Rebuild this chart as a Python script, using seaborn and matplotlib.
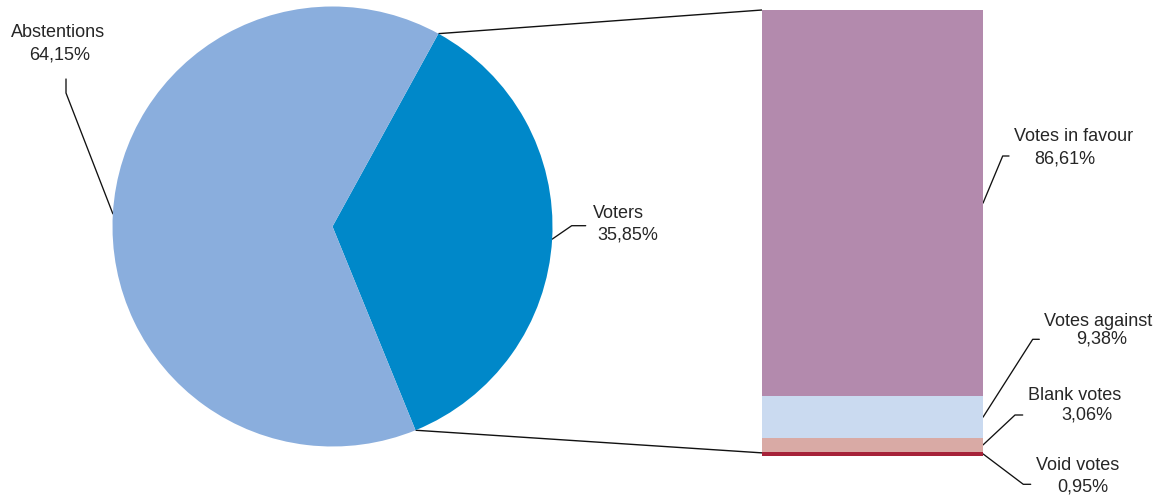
import numpy as np
import matplotlib
matplotlib.use("Agg")
import matplotlib.pyplot as plt
import seaborn as sns
import pandas as pd

# ---- data ----
pie_labels = ["Voters", "Abstentions"]
pie_values = [35.85, 64.15]
pie_colors = ["#0088C9", "#8AAEDD"]

bar_labels = ["Void votes", "Blank votes", "Votes against", "Votes in favour"]
bar_values = [0.95, 3.06, 9.38, 86.61]
bar_colors = ["#A62239", "#D9AAA5", "#CADAF0", "#B38AAD"]

# ---- layout (pixels) ----
W, H = 1163, 497
sns.set_theme(style="white")
plt.rcParams["font.family"] = ["Liberation Sans", "DejaVu Sans"]
TXT = "#262626"
FS = 13.0

fig = plt.figure(figsize=(W / 100, H / 100), dpi=100)

def px_axes(x0, y0, x1, y1, **kw):
    return fig.add_axes([x0 / W, 1 - y1 / H, (x1 - x0) / W, (y1 - y0) / H], **kw)

ax_pie = px_axes(112.5, 6.5, 552.5, 446.5)
ax_bar = px_axes(762, 10, 983, 456)
ax_ov = px_axes(0, 0, W, H, zorder=-1)
ax_ov.set_xlim(0, W)
ax_ov.set_ylim(H, 0)
ax_ov.axis("off")
ax_ov.patch.set_alpha(0)

# pie
start = -pie_values[0] * 360 / 100 / 2 - 3.3
wedges, _ = ax_pie.pie(pie_values, colors=pie_colors, startangle=start,
                       counterclock=True, radius=1,
                       wedgeprops=dict(linewidth=0))
ax_pie.set_xlim(-1, 1)
ax_pie.set_ylim(-1, 1)
ax_pie.set_aspect("equal")
ax_pie.axis("off")

# stacked bar via seaborn
df = pd.DataFrame({"cat": bar_labels, "val": bar_values})
bottoms = np.concatenate([[0], np.cumsum(bar_values)[:-1]])
for i, row in df.iterrows():
    sns.barplot(x=[0], y=[row["val"]], bottom=bottoms[i], color=bar_colors[i],
                width=1.0, ax=ax_bar, linewidth=0, saturation=1)
ax_bar.set_xlim(-0.5, 0.5)
ax_bar.set_ylim(0, sum(bar_values))
ax_bar.axis("off")

def to_ov(ax, x, y):
    disp = ax.transData.transform((x, y))
    return ax_ov.transData.inverted().transform(disp)

def pie_pt(angle_deg):
    a = np.deg2rad(angle_deg)
    return to_ov(ax_pie, np.cos(a), np.sin(a))

line_kw = dict(color="#111111", lw=1.0, solid_capstyle="butt")

# connecting lines pie -> bar
w_vot = wedges[0]
p1 = pie_pt(w_vot.theta2); q1 = to_ov(ax_bar, -0.5, sum(bar_values))
p2 = pie_pt(w_vot.theta1); q2 = to_ov(ax_bar, -0.5, 0.7)
ax_ov.plot([p1[0], q1[0]], [p1[1], q1[1]], **line_kw)
ax_ov.plot([p2[0], q2[0]], [p2[1], q2[1]], **line_kw)

def pct(v):
    return f"{v:.2f}".replace(".", ",") + "%"

leader_kw = dict(color="#111111", lw=0.95)

# pie labels
pie_text_pos = {  # (line1 cx, base1, line2 cx, base2, elbow-end, elbow)
    "Abstentions": (58, 37, 60, 60, (66, 79), (66, 93)),
    "Voters": (618, 218, 627.5, 240, (585.7, 225.7), (571.7, 225.7)),
}
for w, lab, val in zip(wedges, pie_labels, pie_values):
    c1, b1, c2, b2, e0, e1 = pie_text_pos[lab]
    ax_ov.text(c1, b1, lab, ha="center", va="baseline", fontsize=FS, color=TXT)
    ax_ov.text(c2, b2, pct(val), ha="center", va="baseline", fontsize=FS, color=TXT)
    mid = (w.theta1 + w.theta2) / 2
    pp = pie_pt(mid)
    ax_ov.plot([e0[0], e1[0], pp[0]], [e0[1], e1[1], pp[1]], **leader_kw)

bar_text_pos = {
    "Votes in favour": (1074, 141, 1065, 163, (1009, 156), (1002.7, 156)),
    "Votes against": (1098.5, 326, 1101.5, 344, (1039.3, 339.3), (1032.7, 339.3)),
    "Blank votes": (1075, 400, 1087, 420, (1022.7, 415), (1015, 415)),
    "Void votes": (1078, 470, 1082.5, 491.7, (1030.7, 484.3), (1023.3, 484.3)),
}
for i, (lab, val) in enumerate(zip(bar_labels, bar_values)):
    c1, b1, c2, b2, e0, e1 = bar_text_pos[lab]
    ax_ov.text(c1, b1, lab, ha="center", va="baseline", fontsize=FS, color=TXT)
    ax_ov.text(c2, b2, pct(val), ha="center", va="baseline", fontsize=FS, color=TXT)
    bp = to_ov(ax_bar, 0.5, bottoms[i] + val / 2)
    ax_ov.plot([e0[0], e1[0], bp[0]], [e0[1], e1[1], bp[1]], **leader_kw)

fig.savefig("out.png", dpi=100)
